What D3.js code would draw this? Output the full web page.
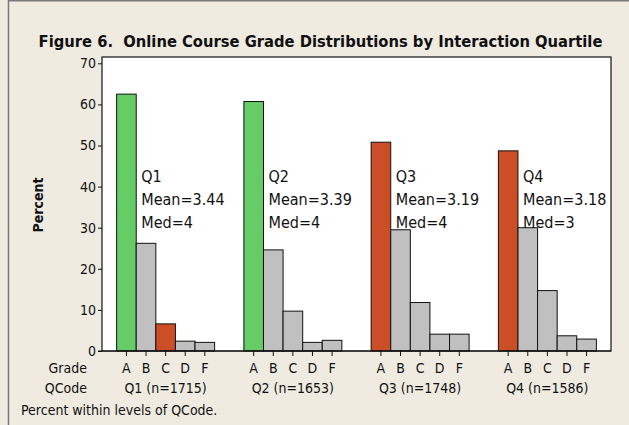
<!DOCTYPE html>
<html>
<head>
<meta charset="utf-8">
<script src="https://cdn.jsdelivr.net/npm/d3@7"></script>
<style>
  body { margin: 0; background: #efebe1; }
  svg text { font-family: "DejaVu Sans", Tahoma, sans-serif; font-stretch: condensed; fill: #111; }
</style>
</head>
<body>
<div id="chart"></div>
<script>
// data
const quartiles = ["Q1", "Q2", "Q3", "Q4"];
const grades = ["A", "B", "C", "D", "F"];
const groupLabels = ["Q1 (n=1715)", "Q2 (n=1653)", "Q3 (n=1748)", "Q4 (n=1586)"];
const q1Values = [62.5, 26.2, 6.6, 2.4, 2.1];
const q2Values = [60.7, 24.6, 9.7, 2.1, 2.6];
const q3Values = [50.8, 29.5, 11.8, 4.1, 4.1];
const q4Values = [48.7, 30.0, 14.7, 3.7, 2.9];
const means = ["3.44", "3.39", "3.19", "3.18"];
const medians = ["4", "4", "4", "3"];
const yTicks = [0, 10, 20, 30, 40, 50, 60, 70];

const seriesValues = [q1Values, q2Values, q3Values, q4Values];
const data = [];
quartiles.forEach((q, i) => grades.forEach((g, j) => data.push({q, g, value: seriesValues[i][j]})));

const width = 629, height = 425;
const margin = {top: 57, right: 18, bottom: 74, left: 102};

const svg = d3.select("#chart").append("svg")
    .attr("width", width)
    .attr("height", height);

svg.append("rect").attr("width", width).attr("height", height).attr("fill", "#efebe1");
// outer window frame (only left and top visible)
svg.append("path")
    .attr("d", `M8.5,${height}V0.75H${width}`)
    .attr("fill", "none")
    .attr("stroke", "#7a7a7a")
    .attr("stroke-width", 1.5);

const x0 = d3.scaleBand()
    .domain(quartiles)
    .range([margin.left, width - margin.right])
    .paddingInner(0.23)
    .paddingOuter(0.115);
const x1 = d3.scaleBand()
    .domain(grades)
    .range([0, x0.bandwidth()]);
const y = d3.scaleLinear()
    .domain([0, 70])
    .range([height - margin.bottom, 63.3]);

const plotBottom = height - margin.bottom;

svg.append("rect")
    .attr("x", margin.left)
    .attr("y", margin.top)
    .attr("width", width - margin.right - margin.left)
    .attr("height", plotBottom - margin.top)
    .attr("fill", "#fff");

// green/red mark the highlighted bars, the rest are gray
const colorOf = d => {
    if (d.q === "Q1" && d.g === "C") return "#cc4e27";
    if (d.g !== "A") return "#c0c0c0";
    return (d.q === "Q1" || d.q === "Q2") ? "#66cc66" : "#cc4e27";
};

svg.append("g")
    .selectAll("rect")
    .data(data)
    .join("rect")
    .attr("x", d => x0(d.q) + x1(d.g))
    .attr("y", d => y(d.value))
    .attr("width", x1.bandwidth())
    .attr("height", d => y(0) - y(d.value))
    .attr("fill", colorOf)
    .attr("stroke", "#111")
    .attr("stroke-width", 1);

// frame on top
svg.append("rect")
    .attr("x", margin.left)
    .attr("y", margin.top)
    .attr("width", width - margin.right - margin.left)
    .attr("height", plotBottom - margin.top)
    .attr("fill", "none")
    .attr("stroke", "#111")
    .attr("stroke-width", 1.2);

// y axis
const yAxis = svg.append("g")
    .attr("transform", `translate(${margin.left},0)`)
    .call(d3.axisLeft(y).tickValues(yTicks).tickSize(4).tickPadding(2));
yAxis.select(".domain").remove();
yAxis.selectAll("line").attr("stroke", "#111");
yAxis.selectAll("text").attr("font-size", 14).style("font-family", null);

svg.append("line")
    .attr("x1", margin.left - 4).attr("x2", width - margin.right)
    .attr("y1", plotBottom).attr("y2", plotBottom)
    .attr("stroke", "#111").attr("stroke-width", 1.2);

// x ticks and labels per quartile
quartiles.forEach((q, i) => {
    const g = svg.append("g").attr("transform", `translate(${x0(q)},0)`);
    g.selectAll("line")
        .data(grades)
        .join("line")
        .attr("x1", d => x1(d) + x1.bandwidth() / 2)
        .attr("x2", d => x1(d) + x1.bandwidth() / 2)
        .attr("y1", plotBottom)
        .attr("y2", plotBottom + 5)
        .attr("stroke", "#111");
    g.selectAll("text.grade")
        .data(grades)
        .join("text")
        .attr("class", "grade")
        .attr("x", d => x1(d) + x1.bandwidth() / 2)
        .attr("y", 373)
        .attr("text-anchor", "middle")
        .attr("font-size", 14)
        .text(d => d);
    g.append("text")
        .attr("x", x0.bandwidth() / 2)
        .attr("y", 393)
        .attr("text-anchor", "middle")
        .attr("font-size", 14)
        .text(groupLabels[i]);

    const lx = x1("A") + x1.bandwidth() + 5;
    [q, `Mean=${means[i]}`, `Med=${medians[i]}`].forEach((t, k) => {
        g.append("text")
            .attr("x", lx)
            .attr("y", 182 + k * 23)
            .attr("font-size", 16)
            .text(t);
    });
});

svg.append("text")
    .attr("x", 87).attr("y", 373)
    .attr("text-anchor", "end")
    .attr("font-size", 14)
    .text("Grade");
svg.append("text")
    .attr("x", 87).attr("y", 393)
    .attr("text-anchor", "end")
    .attr("font-size", 14)
    .text("QCode");
svg.append("text")
    .attr("x", 21).attr("y", 415)
    .attr("font-size", 14)
    .text("Percent within levels of QCode.");

svg.append("text")
    .attr("transform", `translate(43,205) rotate(-90)`)
    .attr("text-anchor", "middle")
    .attr("font-size", 14)
    .attr("font-weight", "bold")
    .text("Percent");

svg.append("text")
    .attr("x", 320.5)
    .attr("y", 47)
    .attr("text-anchor", "middle")
    .attr("font-size", 16.4)
    .attr("font-weight", "bold")
    .text("Figure 6.\u00a0 Online Course Grade Distributions by Interaction Quartile");
</script>
</body>
</html>
